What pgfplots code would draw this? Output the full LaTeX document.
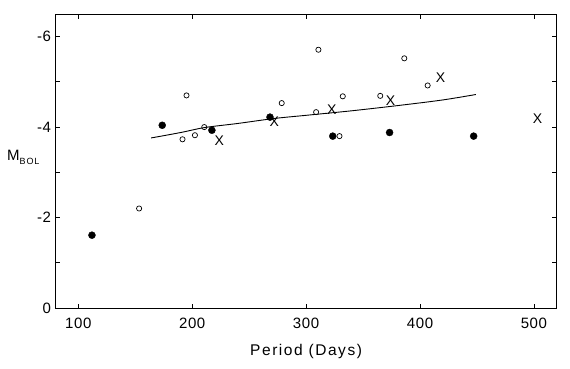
\documentclass[border=0pt]{standalone}
\usepackage{fontspec}
\setmainfont{Liberation Sans}
\usepackage{pgfplots}
\pgfplotsset{compat=1.18}
\begin{document}
\begin{tikzpicture}
\useasboundingbox (-55.5pt,-61pt) rectangle (514.5pt,308pt);
\begin{axis}[
  at={(0pt,0pt)}, anchor=south west,
  scale only axis, width=501.2pt, height=294pt,
  xmin=80, xmax=520, ymin=-6.5, ymax=0,
  y dir=reverse,
  xtick={100,200,300,400,500},
  ytick={0,-2,-4,-6}, yticklabels={0,-2,-4,-6},
  minor ytick={-1,-3,-5},
  tick align=inside, major tick length=4.5pt, minor tick length=4.5pt,
  tick style={black, line width=0.7pt},
  axis line style={line width=0.8pt},
  font=\fontsize{15}{15}\selectfont\addfontfeature{LetterSpace=4},
  /pgf/number format/assume math mode=true,
  xticklabel style={anchor=base, yshift=-20pt},
  yticklabel style={xshift=-1pt},
  xlabel={Period (Days)},
  xlabel style={at={(axis description cs:0.5,-0.16)}, anchor=base, font=\fontsize{15.5}{15.5}\selectfont\addfontfeature{LetterSpace=10}},
  ylabel={M\raisebox{-4pt}{\fontsize{9}{9}\selectfont\addfontfeature{LetterSpace=10}BOL}},
  ylabel style={rotate=-90, at={(axis description cs:-0.025,0.514)}, anchor=east},
  clip=false,
]
% fitted line
\addplot[black, line width=0.9pt, smooth, no marks] coordinates {
(164,-3.76) (190,-3.88) (211,-3.99) (240,-4.08) (272,-4.19) (300,-4.26)
(340,-4.36) (382,-4.48) (420,-4.60) (449,-4.72)};
% filled circles
\addplot[only marks, mark=*, mark size=3.5pt, black] coordinates {
(112,-1.61) (173.7,-4.04) (217.3,-3.93) (268.3,-4.22) (323.4,-3.80)
(373.3,-3.88) (447.1,-3.80)};
% open circles
\addplot[only marks, mark=o, mark size=2.6pt, black, mark options={line width=0.7pt, fill=white}] coordinates {
(153.4,-2.20) (191.5,-3.73) (195,-4.70) (202.4,-3.82) (210.6,-4.00)
(278.6,-4.53) (310.8,-5.71) (308.8,-4.33) (329.3,-3.80) (332.2,-4.68)
(365.1,-4.69) (386.2,-5.52) (406.7,-4.92)};
% crosses
\addplot[only marks, mark=text, text mark={\fontsize{14}{14}\selectfont X}] coordinates {
(223.7,-3.69) (272.1,-4.11) (322.5,-4.39) (374.1,-4.59) (418.1,-5.09) (503.2,-4.18)};
\end{axis}
\end{tikzpicture}
\end{document}
